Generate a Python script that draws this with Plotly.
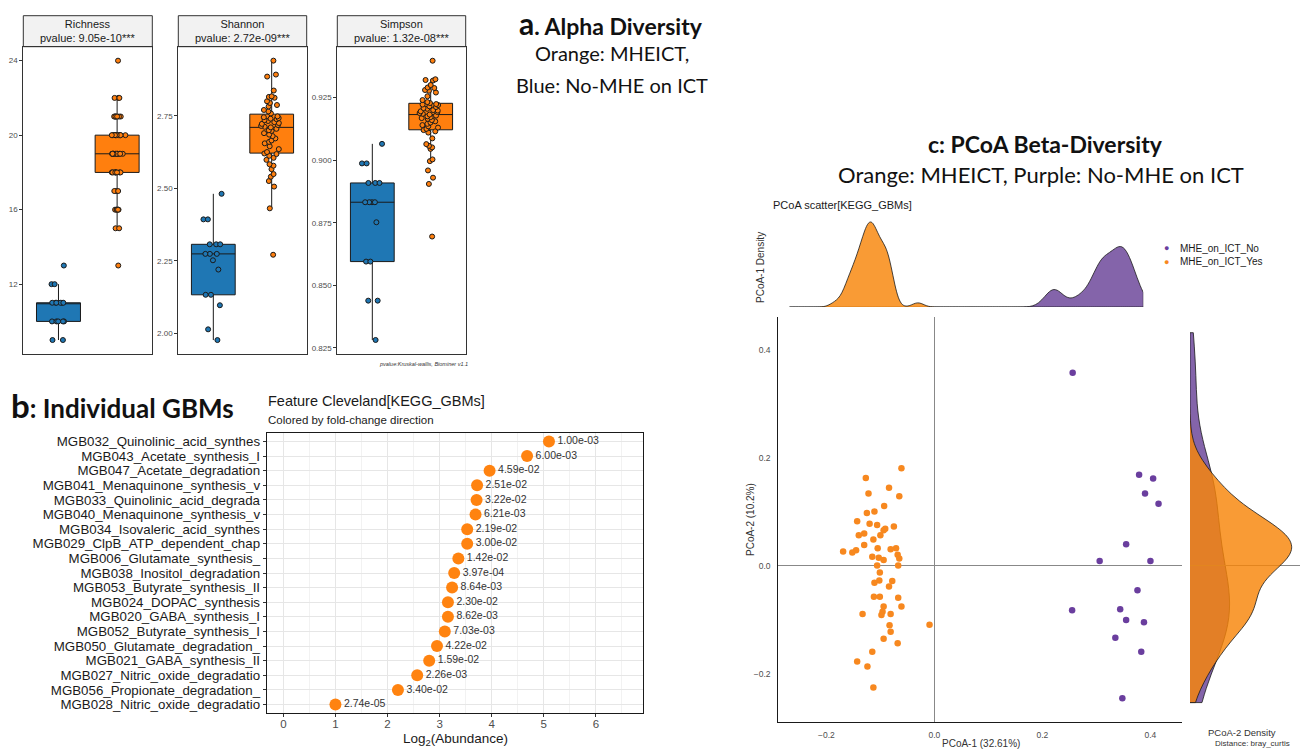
import numpy as np
import plotly.graph_objects as go

W, H = 1304, 749
def X(p): return p / W
def Y(p): return 1 - p / H

# ---------------- DATA ----------------
# Panel a: alpha diversity (No-MHE on ICT = blue, MHEICT = orange)
richness_no = [9, 9, 10, 10, 10, 10, 10, 11, 11, 11, 11, 11, 11, 12, 12, 13]
richness_yes = ([13] + [15] * 2 + [16] * 5 + [17] * 3 + [18] * 9 + [19] * 12 +
                [20] * 12 + [21] * 7 + [22] * 3 + [24])
shannon_no = [1.977, 2.014, 2.097, 2.133, 2.133, 2.220, 2.252, 2.274, 2.274, 2.274,
              2.307, 2.307, 2.307, 2.393, 2.393, 2.481]
shannon_yes = [2.940, 2.892, 2.885, 2.837, 2.817, 2.815, 2.812, 2.800, 2.794, 2.787,
               2.782, 2.770, 2.765, 2.758,
               2.748, 2.745, 2.742, 2.740, 2.738, 2.735, 2.732, 2.728, 2.725, 2.722,
               2.718, 2.715, 2.712, 2.710,
               2.705, 2.700, 2.698, 2.690, 2.685, 2.680, 2.672, 2.665, 2.660, 2.655,
               2.645, 2.635, 2.625,
               2.620, 2.618, 2.612, 2.605, 2.598, 2.583, 2.578, 2.566, 2.549, 2.540,
               2.525, 2.506, 2.431, 2.271]
simpson_no = [0.8282, 0.8439, 0.8439, 0.8595, 0.8595, 0.8752, 0.8832, 0.8832, 0.8832,
              0.8832, 0.8909, 0.8909, 0.8909, 0.8987, 0.8987, 0.9065]
simpson_yes = [0.9397, 0.9323, 0.9320, 0.9318, 0.9300, 0.9290, 0.9288, 0.9280, 0.9277,
               0.9270, 0.9255, 0.9240, 0.9232, 0.9228,
               0.9224, 0.9222, 0.9220, 0.9215, 0.9212, 0.9208, 0.9205, 0.9200, 0.9198,
               0.9195, 0.9192, 0.9188, 0.9185, 0.9182,
               0.9178, 0.9175, 0.9172, 0.9168, 0.9165, 0.9160, 0.9155, 0.9150, 0.9145,
               0.9140, 0.9135, 0.9130, 0.9125,
               0.9120, 0.9115, 0.9110, 0.9087, 0.9064, 0.9057, 0.9051, 0.9045, 0.9003,
               0.8996, 0.8959, 0.8930, 0.8905, 0.8695]
alpha_titles = ["Richness<br>pvalue: 9.05e-10***",
                "Shannon<br>pvalue: 2.72e-09***",
                "Simpson<br>pvalue: 1.32e-08***"]

# Panel b: feature Cleveland plot
features = ["MGB032_Quinolinic_acid_synthes", "MGB043_Acetate_synthesis_I",
            "MGB047_Acetate_degradation", "MGB041_Menaquinone_synthesis_v",
            "MGB033_Quinolinic_acid_degrada", "MGB040_Menaquinone_synthesis_v",
            "MGB034_Isovaleric_acid_synthes", "MGB029_ClpB_ATP_dependent_chap",
            "MGB006_Glutamate_synthesis_", "MGB038_Inositol_degradation",
            "MGB053_Butyrate_synthesis_II", "MGB024_DOPAC_synthesis",
            "MGB020_GABA_synthesis_I", "MGB052_Butyrate_synthesis_I",
            "MGB050_Glutamate_degradation_", "MGB021_GABA_synthesis_II",
            "MGB027_Nitric_oxide_degradatio", "MGB056_Propionate_degradation_",
            "MGB028_Nitric_oxide_degradatio"]
log2_abundance = [5.10, 4.68, 3.96, 3.72, 3.71, 3.69, 3.53, 3.53, 3.36, 3.28,
                  3.24, 3.16, 3.16, 3.10, 2.95, 2.80, 2.57, 2.20, 1.00]
pvalues = ["1.00e-03", "6.00e-03", "4.59e-02", "2.51e-02", "3.22e-02", "6.21e-03",
           "2.19e-02", "3.00e-02", "1.42e-02", "3.97e-04", "8.64e-03", "2.30e-02",
           "8.62e-03", "7.03e-03", "4.22e-02", "1.59e-02", "2.26e-03", "3.40e-02",
           "2.74e-05"]
cleveland_ticks = [0, 1, 2, 3, 4, 5, 6]

# Panel c: PCoA (Bray-Curtis)
pcoa1_yes = [-0.061, -0.127, -0.084, -0.122, -0.065, -0.093, -0.111, -0.125, -0.143,
             -0.120, -0.106, -0.075, -0.091, -0.094, -0.130, -0.140, -0.100, -0.113,
             -0.130, -0.105, -0.071, -0.081, -0.145, -0.169, -0.152, -0.068, -0.115,
             -0.103, -0.065, -0.094, -0.106, -0.067, -0.101, -0.102, -0.078, -0.111,
             -0.084, -0.112, -0.101, -0.067, -0.094, -0.061, -0.096, -0.133, -0.081,
             -0.098, -0.009, -0.083, -0.081, -0.094, -0.068, -0.115, -0.143, -0.124,
             -0.113]
pcoa2_yes = [0.181, 0.163, 0.145, 0.134, 0.129, 0.111, 0.101, 0.098, 0.083, 0.078,
             0.076, 0.073, 0.069, 0.066, 0.060, 0.057, 0.057, 0.049, 0.039, 0.033,
             0.033, 0.031, 0.029, 0.027, 0.025, 0.021, 0.017, 0.015, 0.014, 0.011,
             0.001, 0.001, -0.012, -0.027, -0.028, -0.031, -0.038, -0.057, -0.057,
             -0.059, -0.075, -0.075, -0.085, -0.089, -0.089, -0.091, -0.109, -0.110,
             -0.122, -0.135, -0.143, -0.159, -0.177, -0.186, -0.225]
pcoa1_no = [0.256, 0.379, 0.405, 0.390, 0.415, 0.355, 0.306, 0.400, 0.376, 0.255,
            0.344, 0.355, 0.388, 0.335, 0.383, 0.348]
pcoa2_no = [0.358, 0.169, 0.162, 0.134, 0.115, 0.040, 0.009, 0.009, -0.045, -0.082,
            -0.080, -0.100, -0.104, -0.133, -0.159, -0.245]
group_names = ["MHE_on_ICT_No", "MHE_on_ICT_Yes"]

# ---------------- STYLE ----------------
FONT = "Liberation Sans, Arial, sans-serif"
HEAD = "Lato, Noto Sans, sans-serif"
BLUE, ORANGE = "#1F77B4", "#FF7F0E"
PURPLE_PT, ORANGE_PT = "#6A3E9E", "#F7881F"
PURPLE_FILL, ORANGE_FILL = "rgba(105,66,151,0.82)", "rgba(248,133,9,0.82)"
INK = "#1a1a1a"
TICK = "#4d4d4d"


def nrd0(v):
    v = np.asarray(v, dtype=float)
    q75, q25 = np.percentile(v, [75, 25])
    lo = min(v.std(ddof=1), (q75 - q25) / 1.34)
    return 0.9 * lo * len(v) ** -0.2


fig = go.Figure()

# ---- panel a ----
alpha_sets = [("x", "y", richness_no, richness_yes),
              ("x2", "y2", shannon_no, shannon_yes),
              ("x3", "y3", simpson_no, simpson_yes)]
for xa, ya, no, yes in alpha_sets:
    for pos, vals, col in [(1, no, BLUE), (2, yes, ORANGE)]:
        fig.add_trace(go.Box(
            y=vals, x0=pos, xaxis=xa, yaxis=ya, width=0.75,
            fillcolor=col, line=dict(color=INK, width=1),
            boxpoints="all", jitter=0.55, pointpos=0, whiskerwidth=0,
            marker=dict(color=col, size=5, line=dict(color=INK, width=1)),
            showlegend=False, hoverinfo="y"))

# ---- panel b ----
fig.add_trace(go.Scatter(
    x=log2_abundance, y=features, mode="markers+text", text=pvalues,
    textposition="middle right",
    textfont=dict(size=10.5, color="#333333", family=FONT),
    marker=dict(size=12, color="#FF8310"), xaxis="x4", yaxis="y4",
    showlegend=False, cliponaxis=False))

# ---- panel c: scatter ----
fig.add_trace(go.Scatter(x=pcoa1_no, y=pcoa2_no, mode="markers", name=group_names[0],
                         marker=dict(size=6.5, color=PURPLE_PT), xaxis="x5", yaxis="y5",
                         showlegend=False))
fig.add_trace(go.Scatter(x=pcoa1_yes, y=pcoa2_yes, mode="markers", name=group_names[1],
                         marker=dict(size=6.5, color=ORANGE_PT), xaxis="x5", yaxis="y5",
                         showlegend=False))

# ---- panel c: marginal densities ----
for vals, fill in [(pcoa1_no, PURPLE_FILL), (pcoa1_yes, ORANGE_FILL)]:
    fig.add_trace(go.Violin(
        x=vals, y0=0, orientation="h", side="positive", xaxis="x6", yaxis="y6",
        spanmode="manual", span=[-0.259, 0.429], bandwidth=nrd0(vals),
        fillcolor=fill, line=dict(color=INK, width=0.8), points=False,
        scalegroup="pc1", scalemode="width", showlegend=False, hoverinfo="skip",
        box_visible=False, meanline_visible=False))
# purple drawn in the lower subplot (x7), orange on top of it (x8)
for vals, fill, xa in [(pcoa2_no, PURPLE_FILL, "x7"), (pcoa2_yes, ORANGE_FILL, "x8")]:
    fig.add_trace(go.Violin(
        y=vals, x0=0, orientation="v", side="positive", xaxis=xa, yaxis="y5",
        spanmode="manual", span=[-0.253, 0.432], bandwidth=nrd0(vals),
        fillcolor=fill, line=dict(color=INK, width=0.8), points=False,
        scalegroup="pc2", scalemode="width", showlegend=False, hoverinfo="skip",
        box_visible=False, meanline_visible=False))

# ---------------- LAYOUT ----------------
lay = dict(width=W, height=H, margin=dict(l=0, r=0, t=0, b=0), autosize=False,
           paper_bgcolor="white", plot_bgcolor="rgba(0,0,0,0)", boxmode="overlay",
           violinmode="overlay", violingap=0, violingroupgap=0,
           font=dict(family=FONT, color=INK), showlegend=False)

alpha_dom = [(23.3, 152.3), (178.3, 306.7), (337.3, 465.7)]
alpha_ranges = [[8.25, 24.75], [1.929, 2.988], [0.8226, 0.9453]]
alpha_ticks = [[12, 16, 20, 24], [2.0, 2.25, 2.5, 2.75], [0.825, 0.85, 0.875, 0.9, 0.925]]
alpha_fmt = ["d", ".2f", ".3f"]
for i in range(3):
    sx = "" if i == 0 else str(i + 1)
    lay["xaxis" + sx] = dict(domain=[X(alpha_dom[i][0]), X(alpha_dom[i][1])],
                             anchor="y" + sx, type="linear", range=[0.4, 2.6],
                             showticklabels=False, ticks="", showgrid=False,
                             zeroline=False, showline=True, mirror=True,
                             linecolor="#333333", linewidth=1)
    lay["yaxis" + sx] = dict(domain=[Y(354), Y(46.7)], anchor="x" + sx,
                             range=alpha_ranges[i], tickvals=alpha_ticks[i],
                             tickformat=alpha_fmt[i], ticks="outside", ticklen=3,
                             tickcolor="#333333", tickfont=dict(size=8, color=TICK),
                             showgrid=False, zeroline=False, showline=True,
                             mirror=True, linecolor="#333333", linewidth=1)

lay["xaxis4"] = dict(domain=[X(266.7), X(642.7)], anchor="y4", range=[-0.32, 6.9],
                     tickvals=cleveland_ticks, ticks="outside", ticklen=3,
                     ticklabelstandoff=-3,
                     tickcolor="#333333", tickfont=dict(size=11.5, color=TICK),
                     showgrid=True, gridcolor="#E6E6E6", gridwidth=1,
                     minor=dict(dtick=0.5, showgrid=True, gridcolor="#F2F2F2", gridwidth=1),
                     zeroline=False, showline=True, mirror=True,
                     linecolor="#1a1a1a", linewidth=1)
lay["yaxis4"] = dict(domain=[Y(713.3), Y(432.7)], anchor="x4", type="category",
                     categoryorder="array", categoryarray=features,
                     tickmode="linear", tick0=0, dtick=1,
                     range=[18.6, -0.6], ticks="outside", ticklen=3,
                     tickcolor="#333333", tickfont=dict(size=13.3, color=INK),
                     showgrid=True, gridcolor="#E6E6E6", zeroline=False,
                     showline=True, mirror=True, linecolor="#1a1a1a", linewidth=1)

lay["xaxis5"] = dict(domain=[X(778.3), X(1182.3)], anchor="y5", range=[-0.289, 0.459],
                     tickvals=[-0.2, 0.0, 0.2, 0.4], tickformat=".1f", ticks="",
                     ticklabelstandoff=4, tickfont=dict(size=8.5, color=TICK),
                     showgrid=False, zeroline=True, zerolinecolor="#888888",
                     zerolinewidth=1, showline=True, linecolor="#1a1a1a", linewidth=1)
lay["yaxis5"] = dict(domain=[Y(722.3), Y(317.3)], anchor="x5", range=[-0.2895, 0.4605],
                     tickvals=[-0.2, 0.0, 0.2, 0.4], tickformat=".1f", ticks="",
                     ticklabelstandoff=5, tickfont=dict(size=8.5, color=TICK),
                     showgrid=False, zeroline=True, zerolinecolor="#888888",
                     zerolinewidth=1, showline=True, linecolor="#1a1a1a", linewidth=1)
lay["xaxis6"] = dict(domain=[X(789.3), X(1143.3)], anchor="y6", range=[-0.259, 0.429],
                     visible=False)
lay["yaxis6"] = dict(domain=[Y(307), Y(215)], anchor="x6", type="linear",
                     range=[0, 0.541], visible=False)
lay["xaxis7"] = dict(domain=[X(1190), X(1300)], anchor="y5", type="linear",
                     range=[0, 0.82], visible=False)
lay["xaxis8"] = dict(domain=[X(1190), X(1300)], anchor="y5", type="linear",
                     range=[0, 0.541], visible=False)

fig.update_layout(**lay)

# strips for panel a
for (x0, x1), title in zip(alpha_dom, alpha_titles):
    fig.add_shape(type="rect", xref="paper", yref="paper", x0=X(x0), x1=X(x1),
                  y0=Y(46.7), y1=Y(15.7), fillcolor="#F2F2F2",
                  line=dict(color="#333333", width=1), layer="below")
    fig.add_annotation(text=title, xref="paper", yref="paper", x=X((x0 + x1) / 2),
                       y=Y(31.2), showarrow=False, xanchor="center", yanchor="middle",
                       font=dict(size=11, color=INK, family=FONT))


def A(text, x, y, size, xanchor="center", color=INK, family=FONT, angle=0):
    fig.add_annotation(text=text, xref="paper", yref="paper", x=X(x), y=Y(y),
                       showarrow=False, xanchor=xanchor, yanchor="middle",
                       textangle=angle, font=dict(size=size, color=color, family=family))


A("<i>pvalue:Kruskal-wallis, Biominer v1.1</i>", 470, 364, 5.5, xanchor="right", color="#333333")
A("<b><span style='font-size:30px'>a</span>. Alpha Diversity</b>", 517, 23, 23, xanchor="left", family=HEAD, color="#111111")
A("Orange: MHEICT,", 612, 53, 20, family=HEAD, color="#111111")
A("Blue: No-MHE on ICT", 612, 85, 20, family=HEAD, color="#111111")
A("<b><span style='font-size:33px'>b</span>: Individual GBMs</b>", 9, 405, 26, xanchor="left", family=HEAD, color="#111111")
A("<b>c: PCoA Beta-Diversity</b>", 1045, 144, 23, family=HEAD, color="#111111")
A("Orange: MHEICT, Purple: No-MHE on ICT", 1041, 174, 22, family=HEAD, color="#111111")

A("Feature Cleveland[KEGG_GBMs]", 266, 401, 14.5, xanchor="left")
A("Colored by fold-change direction", 266, 420, 11.5, xanchor="left")
A("Log<sub>2</sub>(Abundance)", 455, 739, 13.5)

A("PCoA scatter[KEGG_GBMs]", 771, 205, 11, xanchor="left")
A("PCoA-1 Density", 760, 268, 10, angle=-90, color="#333333")
A("●", 1166.7, 248.3, 9, color=PURPLE_PT)
A(group_names[0], 1178, 248.3, 10, xanchor="left")
A("●", 1166.7, 261.7, 9, color=ORANGE_PT)
A(group_names[1], 1178, 261.7, 10, xanchor="left")
A("PCoA-2 (10.2%)", 750, 520, 10, angle=-90, color="#333333")
A("PCoA-1 (32.61%)", 980.7, 743, 10, color="#333333")
A("PCoA-2 Density", 1241.7, 732.5, 9.5, color="#333333")
A("Distance: bray_curtis", 1252, 743.5, 8, color="#333333")

fig.write_html("out.html")
